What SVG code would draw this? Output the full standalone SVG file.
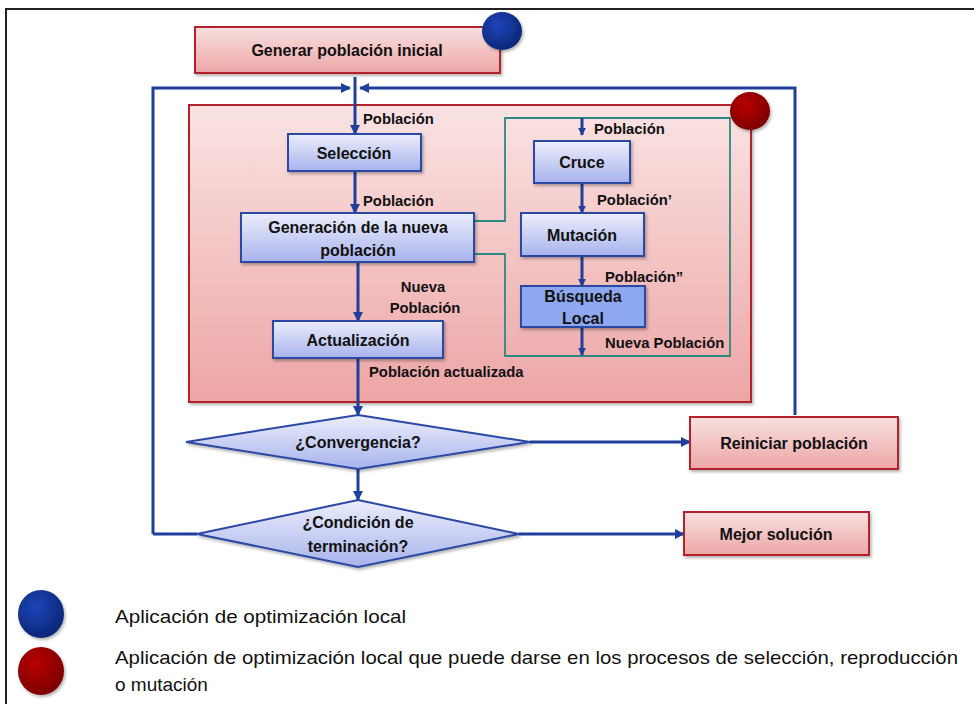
<svg xmlns="http://www.w3.org/2000/svg" width="974" height="704" viewBox="0 0 974 704">
<defs>
<linearGradient id="gRed" x1="0" y1="0" x2="0" y2="1"><stop offset="0" stop-color="#f9e0e0"/><stop offset="1" stop-color="#eca6a6"/></linearGradient>
<linearGradient id="gBig" x1="0" y1="0" x2="0" y2="1"><stop offset="0" stop-color="#fae3e3"/><stop offset="1" stop-color="#eda5a5"/></linearGradient>
<linearGradient id="gBlue" x1="0" y1="0" x2="0" y2="1"><stop offset="0" stop-color="#eceefc"/><stop offset="1" stop-color="#a8b3ec"/></linearGradient>
<radialGradient id="cBlue" cx="0.4" cy="0.35" r="0.7"><stop offset="0" stop-color="#1e44b8"/><stop offset="1" stop-color="#0a2575"/></radialGradient>
<radialGradient id="cRed" cx="0.4" cy="0.35" r="0.7"><stop offset="0" stop-color="#b80505"/><stop offset="1" stop-color="#780000"/></radialGradient>
<filter id="sh" x="-10%" y="-10%" width="130%" height="140%"><feDropShadow dx="1.5" dy="2" stdDeviation="1.5" flood-color="#000" flood-opacity="0.3"/></filter>
<marker id="ah" viewBox="0 0 10 10" refX="9" refY="5" markerWidth="10" markerHeight="10" markerUnits="userSpaceOnUse" orient="auto"><path d="M0,0 L10,5 L0,10 z" fill="#1f3f9a"/></marker>
<marker id="ahs" viewBox="0 0 10 10" refX="9" refY="5" markerWidth="8" markerHeight="8" markerUnits="userSpaceOnUse" orient="auto"><path d="M0,0 L10,5 L0,10 z" fill="#1f3f9a"/></marker>
</defs>
<style>
.red{fill:url(#gRed);stroke:#b3232a;stroke-width:2;filter:url(#sh)}
.blue{fill:url(#gBlue);stroke:#2c48a2;stroke-width:2;filter:url(#sh)}
.dark{fill:#8da8ee;stroke:#2c48a2;stroke-width:2;filter:url(#sh)}
.t{font-family:"Liberation Sans",Arial,sans-serif;font-weight:bold;font-size:16px;fill:#111;text-anchor:middle;dominant-baseline:central}
.l{font-family:"Liberation Sans",Arial,sans-serif;font-weight:bold;font-size:14.8px;fill:#111;dominant-baseline:central}
.lg{font-family:"Liberation Sans",Arial,sans-serif;font-size:19px;fill:#111;dominant-baseline:central}
.c{fill:none;stroke:#1f3f9a;stroke-width:3}
.tl{fill:none;stroke:#2a8a80;stroke-width:1.8}
</style>
<rect x="0" y="0" width="974" height="704" fill="#fff"/>
<rect x="6" y="9" width="990" height="720" fill="none" stroke="#222" stroke-width="2"/>

<g id="big">
<rect x="189" y="105" width="562" height="297" fill="url(#gBig)" stroke="#b3232a" stroke-width="2" filter="url(#sh)"/>
</g>
<g id="teal">
<path class="tl" d="M474,221 H505 V118 H730 V356 H505 V254 H474"/>
</g>

<g id="connectors">
<path class="c" d="M153,534 H197"/>
<path class="c" d="M153,534 V88 H350" marker-end="url(#ah)"/>
<path class="c" d="M795,415 V88 H360" marker-end="url(#ah)"/>
<path class="c" d="M355,77 V134" marker-end="url(#ah)"/>
<path class="c" d="M355,171 V213" marker-end="url(#ah)"/>
<path class="c" d="M358,262 V321" marker-end="url(#ah)"/>
<path class="c" d="M358,358 V415" marker-end="url(#ah)"/>
<path class="c" d="M358,469 V500" marker-end="url(#ah)"/>
<path class="c" d="M530,442 H690" marker-end="url(#ah)"/>
<path class="c" d="M519,534 H684" marker-end="url(#ah)"/>
<path class="c" d="M582,118 V135" marker-end="url(#ahs)"/>
<path class="c" d="M582,183 V213" marker-end="url(#ahs)"/>
<path class="c" d="M582,256 V286" marker-end="url(#ahs)"/>
<path class="c" d="M582,327 V355" marker-end="url(#ahs)"/>
</g>

<g id="labels">
<text class="l" x="363" y="119">Población</text>
<text class="l" x="363" y="201">Población</text>
<text class="l" x="423" y="287" text-anchor="middle">Nueva</text>
<text class="l" x="425" y="308" text-anchor="middle">Población</text>
<text class="l" x="369" y="372">Población actualizada</text>
<text class="l" x="594" y="129">Población</text>
<text class="l" x="597" y="200">Población’</text>
<text class="l" x="605" y="277">Población”</text>
<text class="l" x="605" y="343">Nueva Población</text>
</g>

<g id="generar"><rect class="red" x="195" y="27" width="305" height="46"/><text class="t" x="347" y="50">Generar población inicial</text></g>
<g id="circleBlue"><ellipse cx="502" cy="31" rx="20" ry="19" fill="url(#cBlue)" filter="url(#sh)"/></g>
<g id="circleRed"><ellipse cx="750" cy="111" rx="20" ry="19" fill="url(#cRed)" filter="url(#sh)"/></g>

<g id="seleccion"><rect class="blue" x="288" y="134" width="133" height="37"/><text class="t" x="354" y="153">Selección</text></g>
<g id="generacion"><rect class="blue" x="241" y="213" width="233" height="49"/><text class="t" x="358" y="227">Generación de la nueva</text><text class="t" x="358" y="250">población</text></g>
<g id="actualizacion"><rect class="blue" x="273" y="321" width="170" height="37"/><text class="t" x="358" y="340">Actualización</text></g>
<g id="cruce"><rect class="blue" x="534" y="141" width="96" height="42"/><text class="t" x="582" y="162">Cruce</text></g>
<g id="mutacion"><rect class="blue" x="521" y="213" width="123" height="43"/><text class="t" x="582" y="235">Mutación</text></g>
<g id="busqueda"><rect class="dark" x="521" y="286" width="124" height="41"/><text class="t" x="583" y="296">Búsqueda</text><text class="t" x="583" y="318">Local</text></g>

<g id="convergencia"><polygon class="blue" points="186,442 358,415 530,442 358,469"/><text class="t" x="358" y="442">¿Convergencia?</text></g>
<g id="condicion"><polygon class="blue" points="197,534 358,500 519,534 358,567"/><text class="t" x="358" y="522">¿Condición de</text><text class="t" x="358" y="546">terminación?</text></g>
<g id="reiniciar"><rect class="red" x="690" y="417" width="208" height="52"/><text class="t" x="794" y="443">Reiniciar población</text></g>
<g id="mejor"><rect class="red" x="684" y="512" width="185" height="43"/><text class="t" x="776" y="534">Mejor solución</text></g>

<g id="legend">
<ellipse cx="41" cy="614" rx="23" ry="24" fill="url(#cBlue)" filter="url(#sh)"/>
<ellipse cx="41" cy="671" rx="23" ry="24" fill="url(#cRed)" filter="url(#sh)"/>
<text class="lg" x="115" y="616" textLength="291" lengthAdjust="spacingAndGlyphs">Aplicación de optimización local</text>
<text class="lg" x="115" y="657" textLength="843" lengthAdjust="spacingAndGlyphs">Aplicación de optimización local que puede darse en los procesos de selección, reproducción</text>
<text class="lg" x="115" y="684">o mutación</text>
</g>
</svg>
